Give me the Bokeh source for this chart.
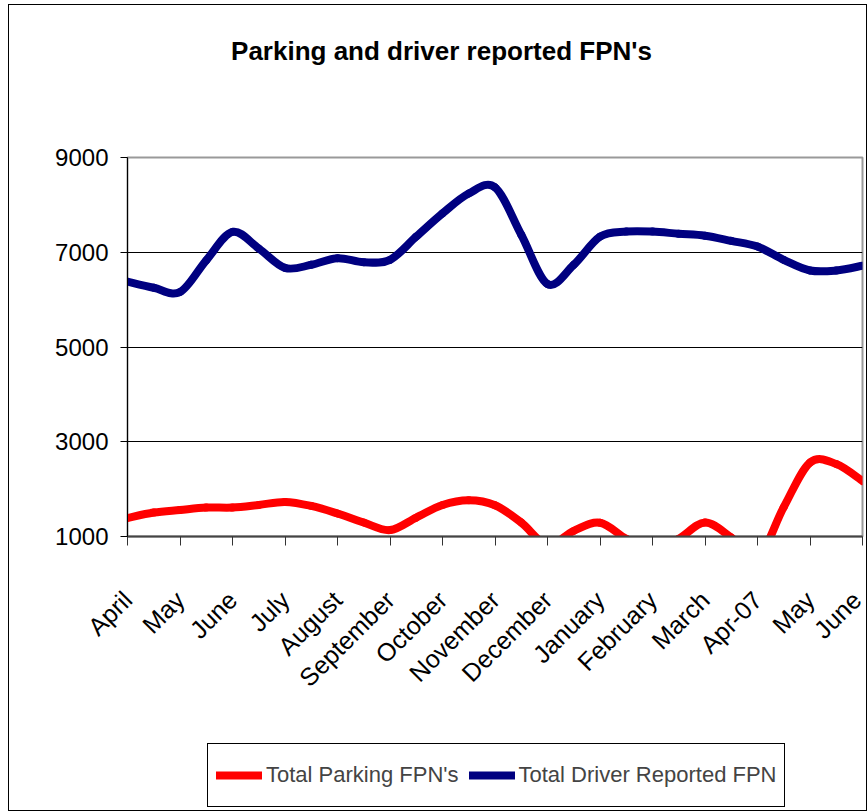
import numpy as np
from bokeh.plotting import figure
from bokeh.models import FixedTicker, Legend, LegendItem, Range1d, Div
from bokeh.layouts import column
from bokeh.embed import file_html
from bokeh.resources import INLINE

# Month labels (every second data point is labelled)
month_labels = ["April", "May", "June", "July", "August", "September", "October",
                "November", "December", "January", "February", "March", "Apr-07",
                "May", "June"]
# 29 readings (label positions plus mid points)
parking = [1390, 1505, 1560, 1610, 1610, 1665, 1730, 1645, 1485, 1295, 1135,
           1400, 1665, 1765, 1660, 1295, 820, 1120, 1290, 950, 700, 950, 1295,
           980, 550, 1620, 2560, 2530, 2170]
driver = [6380, 6250, 6160, 6830, 7430, 7080, 6670, 6735, 6875, 6790, 6840,
          7330, 7820, 8240, 8370, 7370, 6330, 6735, 7330, 7436, 7436, 7390,
          7350, 7240, 7120, 6840, 6615, 6615, 6715]
y_ticks = [1000, 3000, 5000, 7000, 9000]
title_text = "Parking and driver reported FPN's"
series_names = ["Total Parking FPN's", "Total Driver Reported FPN"]
series_colors = ["#FF0000", "#000080"]

idx = list(range(len(parking)))
FONT = "Liberation Sans"


def smooth_segments(xs, ys):
    """Bezier control points for a smoothed line through the data points."""
    x = np.asarray(xs, float)
    y = np.asarray(ys, float)
    xp = np.concatenate([[x[0]], x, [x[-1]]])
    yp = np.concatenate([[y[0]], y, [y[-1]]])
    n = len(x) - 1
    seg = dict(x0=x[:-1], y0=y[:-1], x1=x[1:], y1=y[1:])
    seg["cx0"] = x[:-1] + (xp[2:n + 2] - xp[0:n]) / 6
    seg["cy0"] = y[:-1] + (yp[2:n + 2] - yp[0:n]) / 6
    seg["cx1"] = x[1:] - (xp[3:n + 3] - xp[1:n + 1]) / 6
    seg["cy1"] = y[1:] - (yp[3:n + 3] - yp[1:n + 1]) / 6
    return seg


title = Div(text=f"<div style=\"font-family:'{FONT}'; font-weight:bold; font-size:26px; "
                 f"color:black; text-align:center; padding-top:31px; padding-left:18px; "
                 f"width:847px; line-height:30px\">{title_text}</div>",
            width=857, height=80, margin=0)

p = figure(width=857, height=651, output_backend="svg", toolbar_location=None,
           x_range=Range1d(0, len(parking) - 1), y_range=Range1d(1000, 9000),
           min_border_left=118, min_border_right=4, min_border_top=72,
           min_border_bottom=200)

for vals, col in zip([parking, driver], series_colors):
    s = smooth_segments(idx, vals)
    p.bezier(x0=s["x0"], y0=s["y0"], x1=s["x1"], y1=s["y1"],
             cx0=s["cx0"], cy0=s["cy0"], cx1=s["cx1"], cy1=s["cy1"],
             line_color=col, line_width=8, line_cap="round")

p.outline_line_color = "#999999"
p.outline_line_width = 2

p.xgrid.visible = False
p.ygrid.ticker = FixedTicker(ticks=y_ticks)
p.ygrid.grid_line_color = "black"
p.ygrid.grid_line_width = 1

p.yaxis.ticker = FixedTicker(ticks=y_ticks)
p.yaxis.axis_line_color = "black"
p.yaxis.major_tick_line_color = "black"
p.yaxis.major_tick_out = 7
p.yaxis.major_tick_in = 0
p.yaxis.minor_tick_line_color = None
p.yaxis.major_label_text_font = FONT
p.yaxis.major_label_text_font_size = "24px"
p.yaxis.major_label_text_color = "black"
p.yaxis.major_label_standoff = 12

lab_pos = idx[::2]
p.xaxis.ticker = FixedTicker(ticks=lab_pos)
p.xaxis.major_label_overrides = {i: m for i, m in zip(lab_pos, month_labels)}
p.xaxis.major_label_orientation = 0.785
p.xaxis.axis_line_color = "#444444"
p.xaxis.axis_line_width = 2
p.xaxis.major_tick_line_color = "#333333"
p.xaxis.major_tick_out = 9
p.xaxis.major_tick_in = 0
p.xaxis.minor_tick_line_color = None
p.xaxis.major_label_text_font = FONT
p.xaxis.major_label_text_font_size = "25px"
p.xaxis.major_label_text_color = "black"
p.xaxis.major_label_standoff = 50

# Legend in its own strip below the chart
lf = figure(width=857, height=74, output_backend="svg", toolbar_location=None,
            x_range=Range1d(0, 1), y_range=Range1d(0, 1),
            x_axis_type=None, y_axis_type=None,
            min_border_left=0, min_border_right=0, min_border_top=0, min_border_bottom=0)
lf.outline_line_color = None
lf.grid.visible = False
items = []
for name, col in zip(series_names, series_colors):
    rr = lf.line([-5, -4], [-5, -5], line_color=col, line_width=8, line_cap="round")
    items.append(LegendItem(label=name, renderers=[rr]))

legend = Legend(items=items, orientation="horizontal", location=(80, 3))
legend.label_text_font = FONT
legend.label_text_font_size = "22px"
legend.border_line_color = "black"
legend.border_line_alpha = 1.0
legend.border_line_width = 1
legend.glyph_width = 46
legend.glyph_height = 46
legend.label_height = 46
legend.label_standoff = 4
legend.spacing = 10
legend.padding = 8
legend.margin = 0
lf.add_layout(legend, "center")

layout = column(title, p, lf, spacing=0)
layout.styles = {"border": "1px solid black", "margin-left": "8px", "margin-top": "4px"}

open("out.html", "w").write(file_html(layout, INLINE))
